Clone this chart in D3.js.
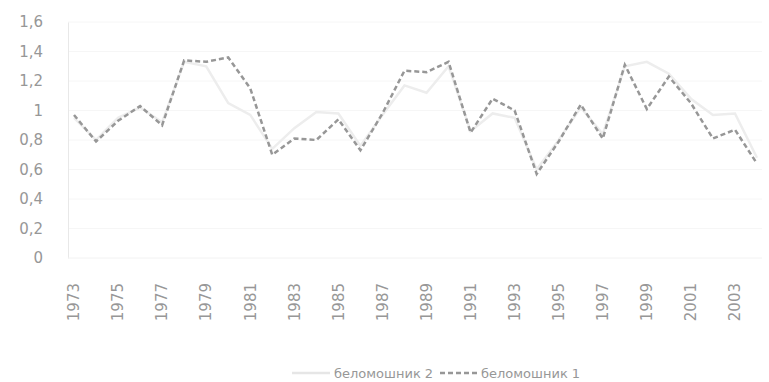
<!DOCTYPE html>
<html>
<head>
<meta charset="utf-8">
<script src="https://cdn.jsdelivr.net/npm/d3@7/dist/d3.min.js"></script>
<style>
    body { margin: 0; background: #fff; }
    text { font-family: "DejaVu Sans", sans-serif; fill: #979797; }
</style>
</head>
<body>
<div id="chart"></div>
<script>
const years = [1973, 1974, 1975, 1976, 1977, 1978, 1979, 1980, 1981, 1982, 1983, 1984, 1985, 1986, 1987, 1988,
    1989, 1990, 1991, 1992, 1993, 1994, 1995, 1996, 1997, 1998, 1999, 2000, 2001, 2002, 2003, 2004];

// беломошник 1 (dashed)
const belomoshnik1 = [0.97, 0.79, 0.93, 1.03, 0.90, 1.34, 1.33, 1.36, 1.15, 0.70, 0.81, 0.80, 0.94, 0.73, 0.98, 1.27,
    1.26, 1.33, 0.85, 1.08, 1.00, 0.57, 0.79, 1.04, 0.81, 1.31, 1.01, 1.23, 1.05, 0.81, 0.87, 0.64];

// беломошник 2 (solid, very light)
const belomoshnik2 = [0.95, 0.80, 0.95, 1.02, 0.92, 1.33, 1.30, 1.05, 0.97, 0.74, 0.88, 0.99, 0.98, 0.76, 0.97, 1.17,
    1.12, 1.30, 0.86, 0.98, 0.95, 0.60, 0.80, 1.02, 0.84, 1.30, 1.33, 1.25, 1.08, 0.97, 0.98, 0.68];

const yTicks = [0, 0.2, 0.4, 0.6, 0.8, 1, 1.2, 1.4, 1.6];
const yTickLabels = ["0", "0,2", "0,4", "0,6", "0,8", "1", "1,2", "1,4", "1,6"];
const xTickLabels = [1973, 1975, 1977, 1979, 1981, 1983, 1985, 1987, 1989, 1991, 1993, 1995, 1997, 1999, 2001, 2003];

const seriesNames = ["беломошник 2", "беломошник 1"];

(() => {
    const width = 769, height = 382;
    const axisX = 68, plotBottom = 258, plotTop = 22;

    const svg = d3.select("#chart")
        .append("svg")
        .attr("width", width)
        .attr("height", height);

    const x = d3.scalePoint()
        .domain(years)
        .range([74, 757]);

    const y = d3.scaleLinear()
        .domain([0, 1.6])
        .range([plotBottom, plotTop]);

    // faint gridlines
    svg.append("g")
        .selectAll("line")
        .data(yTicks.slice(1))
        .enter()
        .append("line")
        .attr("x1", axisX)
        .attr("x2", 762)
        .attr("y1", d => y(d))
        .attr("y2", d => y(d))
        .attr("stroke", "#f6f6f6");

    const yAxis = svg.append("g")
        .attr("transform", `translate(${axisX},0)`)
        .call(d3.axisLeft(y).tickValues(yTicks).tickFormat((d, i) => yTickLabels[i]).tickSize(0).tickPadding(25));
    yAxis.select(".domain").attr("stroke", "#e8e8e8");
    yAxis.selectAll("text").style("font-size", "15px").style("fill", "#979797");

    svg.append("line")
        .attr("x1", axisX)
        .attr("x2", 762)
        .attr("y1", plotBottom)
        .attr("y2", plotBottom)
        .attr("stroke", "#f2f2f2");

    svg.append("g")
        .selectAll("text")
        .data(xTickLabels)
        .enter()
        .append("text")
        .attr("transform", d => `translate(${x(d)},283) rotate(-90)`)
        .attr("text-anchor", "end")
        .attr("dy", "0.35em")
        .style("font-size", "15px")
        .text(d => d);

    const line = d3.line()
        .x((d, i) => x(years[i]))
        .y(d => y(d));

    svg.append("path")
        .datum(belomoshnik2)
        .attr("d", line)
        .attr("fill", "none")
        .attr("stroke", "#ededed")
        .attr("stroke-width", 2.5);

    svg.append("path")
        .datum(belomoshnik1)
        .attr("d", line)
        .attr("fill", "none")
        .attr("stroke", "#979797")
        .attr("stroke-width", 2.5)
        .attr("stroke-dasharray", "5,3");

    // legend
    const legend = svg.append("g").style("font-size", "13px");
    legend.append("line")
        .attr("x1", 292).attr("x2", 330).attr("y1", 373).attr("y2", 373)
        .attr("stroke", "#e6e6e6").attr("stroke-width", 2.5);
    legend.append("text")
        .attr("x", 334).attr("y", 373).attr("dy", "0.35em")
        .text(seriesNames[0]);
    legend.append("line")
        .attr("x1", 440).attr("x2", 477).attr("y1", 373).attr("y2", 373)
        .attr("stroke", "#979797").attr("stroke-width", 2.5).attr("stroke-dasharray", "5,3");
    legend.append("text")
        .attr("x", 481).attr("y", 373).attr("dy", "0.35em")
        .text(seriesNames[1]);
})();
</script>
</body>
</html>
